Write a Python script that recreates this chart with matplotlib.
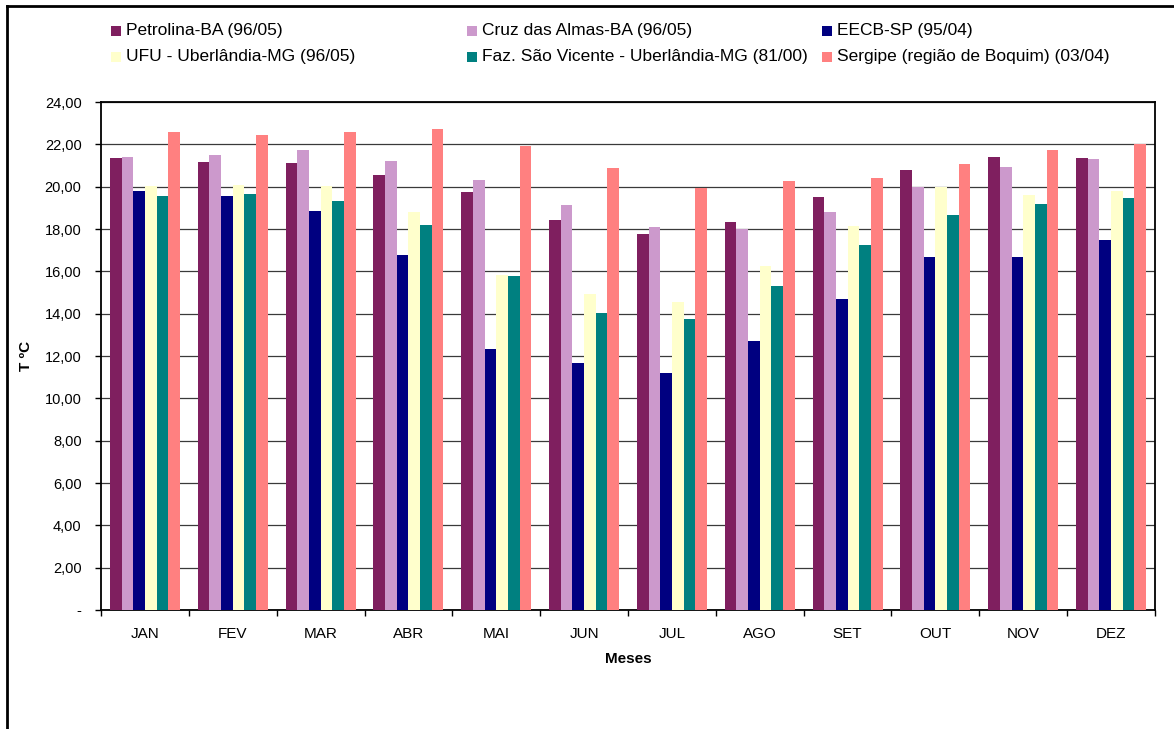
import matplotlib
matplotlib.use("Agg")
import matplotlib.pyplot as plt
from matplotlib.lines import Line2D
from matplotlib.patches import Rectangle
from matplotlib.ticker import FixedLocator, FuncFormatter
import numpy as np

plt.rcParams['font.family'] = ['Liberation Sans', 'DejaVu Sans']

months = ["JAN", "FEV", "MAR", "ABR", "MAI", "JUN",
          "JUL", "AGO", "SET", "OUT", "NOV", "DEZ"]

series_names = [
    "Petrolina-BA (96/05)",
    "Cruz das Almas-BA (96/05)",
    "EECB-SP (95/04)",
    "UFU - Uberlândia-MG (96/05)",
    "Faz. São Vicente - Uberlândia-MG (81/00)",
    "Sergipe (região de Boquim) (03/04)",
]

petrolina = [21.36, 21.16, 21.12, 20.55, 19.75, 18.43, 17.76, 18.33, 19.50, 20.79, 21.39, 21.36]
cruz_das_almas = [21.39, 21.49, 21.74, 21.21, 20.32, 19.13, 18.09, 17.99, 18.80, 19.97, 20.92, 21.31]
eecb = [19.80, 19.55, 18.85, 16.77, 12.32, 11.65, 11.18, 12.69, 14.68, 16.67, 16.67, 17.47]
ufu = [20.01, 20.07, 20.01, 18.82, 15.82, 14.92, 14.53, 16.24, 18.13, 19.98, 19.60, 19.80]
faz_sao_vicente = [19.55, 19.65, 19.32, 18.18, 15.77, 14.01, 13.74, 15.30, 17.24, 18.66, 19.18, 19.45]
sergipe = [22.58, 22.44, 22.58, 22.73, 21.91, 20.89, 19.93, 20.27, 20.40, 21.07, 21.74, 22.01]

series_values = [petrolina, cruz_das_almas, eecb, ufu, faz_sao_vicente, sergipe]
colors = ["#7F1F5F", "#CC99CC", "#000080", "#FFFFCC", "#008080", "#FF8080"]

W, H = 1174, 729
fig = plt.figure(figsize=(W / 100, H / 100), dpi=100)
ax = fig.add_axes([101 / W, 1 - 610 / H, (1155 - 101) / W, (610 - 102) / H])

n = len(series_values)
group = 0.797
bw = group / n
x = np.arange(len(months))
for j, (vals, col) in enumerate(zip(series_values, colors)):
    ax.bar(x + (j - (n - 1) / 2) * bw, vals, width=bw, color=col,
           edgecolor="none", zorder=3)

ax.set_xlim(-0.5, len(months) - 0.5)
ax.set_ylim(0, 24)
ax.set_yticks(np.arange(0, 25, 2))
ax.yaxis.set_major_formatter(FuncFormatter(
    lambda v, p: "-" if abs(v) < 1e-9 else f"{v:.2f}".replace(".", ",")))
ax.grid(axis="y", color="#3a3a3a", linewidth=0.9, zorder=0)
ax.set_axisbelow(True)

ax.set_xticks(x)
ax.set_xticklabels(months)
ax.xaxis.set_minor_locator(FixedLocator(np.arange(-0.5, len(months), 1.0)))
ax.tick_params(axis="x", which="major", length=0, pad=12, labelsize=11)
ax.tick_params(axis="x", which="minor", length=4, width=1, direction="out")
ax.tick_params(axis="y", length=4, width=1, direction="out", pad=10, labelsize=10.5)

for sp in ax.spines.values():
    sp.set_color("black")
    sp.set_linewidth(1.3)

ax.set_ylabel("T ºC", fontsize=11, fontweight="bold")
ax.yaxis.set_label_coords(-0.0712, 0.5)
ax.yaxis.label.set_va("center")
ax.set_xlabel("Meses", fontsize=11, fontweight="bold")
ax.xaxis.set_label_coords(0.5, -0.0965)
ax.xaxis.label.set_va("center")

# Legend laid out in two rows of three entries
col_x = [111, 467, 822]
row_y = [31, 57]
for k, (name, col) in enumerate(zip(series_names, colors)):
    cx = col_x[k % 3]
    cy = row_y[k // 3]
    fig.patches.append(Rectangle((cx / W, 1 - (cy + 5) / H), 10 / W, 10 / H,
                                 transform=fig.transFigure, facecolor=col,
                                 edgecolor="none"))
    fig.text((cx + 15) / W, 1 - cy / H, name, fontsize=12.5,
             ha="left", va="center")

# Chart border (left and top edges)
fig.add_artist(Line2D([7 / W, 7 / W], [0, 1 - 6 / H], transform=fig.transFigure,
                      color="black", linewidth=2))
fig.add_artist(Line2D([7 / W, 1], [1 - 6 / H, 1 - 6 / H], transform=fig.transFigure,
                      color="black", linewidth=2))

fig.savefig("out.png", dpi=100)
